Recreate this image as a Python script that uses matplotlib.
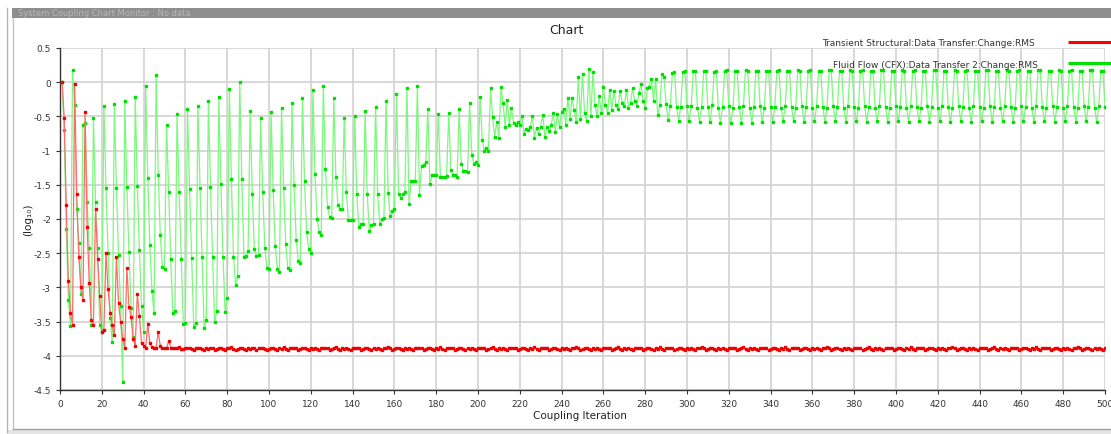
import matplotlib
matplotlib.use('Agg')
import matplotlib.pyplot as plt
from matplotlib.patches import Rectangle
import numpy as np

plt.rcParams['font.family'] = ['DejaVu Sans']
plt.rcParams['axes.unicode_minus'] = False

# coupling iterations 1..500, values are log10 of the RMS change
iterations = np.arange(1, 501)

structural_rms = [
     0.00, -0.52, -1.80, -2.90, -3.38, -3.55, -0.03, -1.64, -2.55, -3.00,   # 1-10
    -3.19, -0.43, -2.12, -2.93, -3.48, -3.55, -1.85, -2.58, -3.13, -3.65,   # 11-20
    -3.62, -2.49, -3.03, -3.37, -3.55, -3.70, -2.55, -3.23, -3.50, -3.75,   # 21-30
    -3.88, -2.71, -3.28, -3.43, -3.76, -3.85, -3.09, -3.42, -3.82, -3.85,   # 31-40
    -3.88, -3.53, -3.82, -3.87, -3.88, -3.88, -3.65, -3.86, -3.88, -3.89,   # 41-50
    -3.89, -3.78, -3.88, -3.89, -3.89, -3.89, -3.87, -3.90, -3.90, -3.89,   # 51-60
    -3.89, -3.88, -3.90, -3.91, -3.89, -3.89, -3.88, -3.90, -3.92, -3.89,   # 61-70
    -3.90, -3.88, -3.89, -3.91, -3.90, -3.89, -3.88, -3.90, -3.91, -3.89,   # 71-80
    -3.89, -3.87, -3.90, -3.92, -3.90, -3.89, -3.88, -3.90, -3.91, -3.89,   # 81-90
    -3.90, -3.88, -3.89, -3.92, -3.89, -3.89, -3.88, -3.90, -3.91, -3.90,   # 91-100
    -3.89, -3.88, -3.90, -3.91, -3.89, -3.90, -3.87, -3.90, -3.92, -3.89,   # 101-110
    -3.89, -3.88, -3.89, -3.91, -3.90, -3.89, -3.88, -3.90, -3.92, -3.89,   # 111-120
    -3.90, -3.88, -3.90, -3.91, -3.89, -3.89, -3.88, -3.89, -3.91, -3.90,   # 121-130
    -3.89, -3.87, -3.90, -3.92, -3.89, -3.90, -3.88, -3.90, -3.91, -3.89,   # 131-140
    -3.89, -3.88, -3.89, -3.92, -3.90, -3.89, -3.88, -3.90, -3.91, -3.89,   # 141-150
    -3.90, -3.88, -3.90, -3.91, -3.89, -3.89, -3.87, -3.89, -3.92, -3.90,   # 151-160
    -3.89, -3.88, -3.90, -3.91, -3.89, -3.90, -3.88, -3.90, -3.92, -3.89,   # 161-170
    -3.89, -3.88, -3.89, -3.91, -3.90, -3.89, -3.88, -3.90, -3.91, -3.89,   # 171-180
    -3.90, -3.87, -3.90, -3.92, -3.89, -3.89, -3.88, -3.89, -3.91, -3.90,   # 181-190
    -3.89, -3.88, -3.90, -3.92, -3.89, -3.90, -3.88, -3.90, -3.91, -3.89,   # 191-200
    -3.89, -3.88, -3.89, -3.91, -3.90, -3.89, -3.87, -3.90, -3.92, -3.89,   # 201-210
    -3.90, -3.88, -3.90, -3.91, -3.89, -3.89, -3.88, -3.89, -3.92, -3.90,   # 211-220
    -3.89, -3.88, -3.90, -3.91, -3.89, -3.90, -3.87, -3.90, -3.91, -3.89,   # 221-230
    -3.89, -3.88, -3.89, -3.92, -3.90, -3.89, -3.88, -3.90, -3.91, -3.89,   # 231-240
    -3.90, -3.88, -3.90, -3.92, -3.89, -3.89, -3.87, -3.89, -3.91, -3.90,   # 241-250
    -3.89, -3.88, -3.90, -3.91, -3.89, -3.90, -3.88, -3.90, -3.92, -3.89,   # 251-260
    -3.89, -3.88, -3.89, -3.91, -3.90, -3.89, -3.87, -3.90, -3.91, -3.89,   # 261-270
    -3.90, -3.88, -3.90, -3.92, -3.89, -3.89, -3.88, -3.89, -3.91, -3.90,   # 271-280
    -3.89, -3.88, -3.90, -3.91, -3.89, -3.90, -3.87, -3.90, -3.92, -3.89,   # 281-290
    -3.89, -3.88, -3.89, -3.91, -3.90, -3.89, -3.88, -3.90, -3.91, -3.89,   # 291-300
    -3.90, -3.88, -3.90, -3.92, -3.89, -3.89, -3.87, -3.89, -3.91, -3.90,   # 301-310
    -3.89, -3.88, -3.90, -3.91, -3.89, -3.90, -3.88, -3.90, -3.92, -3.89,   # 311-320
    -3.89, -3.88, -3.89, -3.91, -3.90, -3.89, -3.87, -3.90, -3.91, -3.89,   # 321-330
    -3.90, -3.88, -3.90, -3.92, -3.89, -3.89, -3.88, -3.89, -3.91, -3.90,   # 331-340
    -3.89, -3.88, -3.90, -3.91, -3.89, -3.90, -3.87, -3.90, -3.92, -3.89,   # 341-350
    -3.89, -3.88, -3.89, -3.91, -3.90, -3.89, -3.88, -3.90, -3.91, -3.89,   # 351-360
    -3.90, -3.88, -3.90, -3.92, -3.89, -3.89, -3.87, -3.89, -3.91, -3.90,   # 361-370
    -3.89, -3.88, -3.90, -3.91, -3.89, -3.90, -3.88, -3.90, -3.92, -3.89,   # 371-380
    -3.89, -3.88, -3.89, -3.91, -3.90, -3.89, -3.87, -3.90, -3.91, -3.89,   # 381-390
    -3.90, -3.88, -3.90, -3.92, -3.89, -3.89, -3.88, -3.89, -3.91, -3.90,   # 391-400
    -3.89, -3.88, -3.90, -3.91, -3.89, -3.90, -3.87, -3.90, -3.92, -3.89,   # 401-410
    -3.89, -3.88, -3.89, -3.91, -3.90, -3.89, -3.88, -3.90, -3.91, -3.89,   # 411-420
    -3.90, -3.88, -3.90, -3.92, -3.89, -3.89, -3.87, -3.89, -3.91, -3.90,   # 421-430
    -3.89, -3.88, -3.90, -3.91, -3.89, -3.90, -3.88, -3.90, -3.92, -3.89,   # 431-440
    -3.89, -3.88, -3.89, -3.91, -3.90, -3.89, -3.87, -3.90, -3.91, -3.89,   # 441-450
    -3.90, -3.88, -3.90, -3.92, -3.89, -3.89, -3.88, -3.89, -3.91, -3.90,   # 451-460
    -3.89, -3.88, -3.90, -3.91, -3.89, -3.90, -3.87, -3.90, -3.92, -3.89,   # 461-470
    -3.89, -3.88, -3.89, -3.91, -3.90, -3.89, -3.88, -3.90, -3.91, -3.89,   # 471-480
    -3.90, -3.88, -3.90, -3.92, -3.89, -3.89, -3.87, -3.89, -3.91, -3.90,   # 481-490
    -3.89, -3.88, -3.90, -3.91, -3.89, -3.90, -3.88, -3.90, -3.92, -3.89,   # 491-500
]

fluid_rms = [
     0.00, -0.70, -2.15, -3.18, -3.57,  0.18, -0.33, -1.85, -2.35, -3.10,   # 1-10
    -0.62, -0.60, -1.75, -2.42, -3.55, -0.53, -1.75, -2.42, -3.55, -3.65,   # 11-20
    -0.35, -1.54, -2.50, -3.45, -3.80, -0.32, -1.54, -2.52, -3.27, -4.39,   # 21-30
    -0.28, -1.53, -2.48, -3.30, -3.73, -0.22, -1.52, -2.46, -3.27, -3.65,   # 31-40
    -0.06, -1.40, -2.38, -3.05, -3.38,  0.11, -1.36, -2.24, -2.70, -2.73,   # 41-50
    -0.62, -1.61, -2.59, -3.37, -3.34, -0.47, -1.60, -2.58, -3.53, -3.52,   # 51-60
    -0.39, -1.56, -2.57, -3.58, -3.52, -0.35, -1.55, -2.55, -3.60, -3.48,   # 61-70
    -0.28, -1.53, -2.55, -3.51, -3.35, -0.22, -1.49, -2.55, -3.36, -3.16,   # 71-80
    -0.10, -1.42, -2.55, -2.96, -2.83,  0.00, -1.41, -2.55, -2.54, -2.47,   # 81-90
    -0.42, -1.63, -2.44, -2.54, -2.53, -0.53, -1.61, -2.42, -2.72, -2.73,   # 91-100
    -0.44, -1.58, -2.40, -2.73, -2.77, -0.37, -1.54, -2.36, -2.72, -2.75,   # 101-110
    -0.31, -1.51, -2.30, -2.61, -2.64, -0.23, -1.45, -2.19, -2.44, -2.50,   # 111-120
    -0.11, -1.34, -2.00, -2.19, -2.23, -0.05, -1.27, -1.82, -1.97, -1.99,   # 121-130
    -0.23, -1.38, -1.80, -1.86, -1.86, -0.52, -1.60, -2.01, -2.02, -2.02,   # 131-140
    -0.49, -1.64, -2.12, -2.08, -2.07, -0.42, -1.64, -2.17, -2.09, -2.07,   # 141-150
    -0.36, -1.63, -2.08, -2.00, -1.99, -0.28, -1.62, -1.95, -1.88, -1.86,   # 151-160
    -0.17, -1.63, -1.69, -1.64, -1.61, -0.09, -1.78, -1.45, -1.45, -1.44,   # 161-170
    -0.06, -1.65, -1.22, -1.21, -1.17, -0.39, -1.49, -1.36, -1.36, -1.35,   # 171-180
    -0.46, -1.38, -1.38, -1.39, -1.37, -0.45, -1.28, -1.36, -1.35, -1.39,   # 181-190
    -0.39, -1.19, -1.30, -1.30, -1.31, -0.31, -1.06, -1.19, -1.17, -1.21,   # 191-200
    -0.21, -0.84, -1.00, -0.96, -1.01, -0.09, -0.51, -0.80, -0.58, -0.81,   # 201-210
    -0.07, -0.31, -0.65, -0.26, -0.63, -0.37, -0.60, -0.63, -0.58, -0.63,   # 211-220
    -0.49, -0.75, -0.68, -0.70, -0.66, -0.50, -0.81, -0.67, -0.76, -0.65,   # 221-230
    -0.48, -0.80, -0.66, -0.72, -0.63, -0.45, -0.73, -0.47, -0.65, -0.44,   # 231-240
    -0.39, -0.62, -0.23, -0.54, -0.23, -0.40, -0.58,  0.07, -0.54,  0.12,   # 241-250
    -0.45, -0.57,  0.20, -0.50,  0.15, -0.33, -0.50, -0.20, -0.45, -0.07,   # 251-260
    -0.34, -0.45, -0.11, -0.40, -0.13, -0.33, -0.39, -0.13, -0.30, -0.35,   # 261-270
    -0.11, -0.37, -0.30, -0.09, -0.28, -0.35, -0.16, -0.03, -0.27, -0.38,   # 271-280
    -0.09, -0.07,  0.05, -0.28,  0.05, -0.48, -0.34,  0.12,  0.08, -0.32,   # 281-290
    -0.55, -0.35,  0.13,  0.15, -0.36, -0.56, -0.36,  0.15,  0.16, -0.35,   # 291-300
    -0.57, -0.35,  0.16,  0.16, -0.37, -0.58, -0.36,  0.17,  0.17, -0.36,   # 301-310
    -0.58, -0.34,  0.15,  0.16, -0.38, -0.59, -0.36,  0.17,  0.18, -0.35,   # 311-320
    -0.60, -0.37,  0.16,  0.17, -0.36, -0.60, -0.35,  0.18,  0.17, -0.37,   # 321-330
    -0.59, -0.36,  0.17,  0.17, -0.35, -0.58, -0.38,  0.16,  0.17, -0.36,   # 331-340
    -0.58, -0.36,  0.17,  0.18, -0.37, -0.57, -0.35,  0.16,  0.16, -0.36,   # 341-350
    -0.57, -0.37,  0.18,  0.17, -0.35, -0.58, -0.36,  0.17,  0.18, -0.37,   # 351-360
    -0.57, -0.35,  0.16,  0.17, -0.36, -0.58, -0.37,  0.18,  0.18, -0.35,   # 361-370
    -0.57, -0.36,  0.17,  0.16, -0.37, -0.58, -0.35,  0.18,  0.17, -0.36,   # 371-380
    -0.57, -0.37,  0.17,  0.18, -0.35, -0.58, -0.36,  0.16,  0.17, -0.37,   # 381-390
    -0.57, -0.35,  0.18,  0.18, -0.36, -0.58, -0.37,  0.17,  0.16, -0.35,   # 391-400
    -0.57, -0.36,  0.18,  0.17, -0.37, -0.58, -0.35,  0.17,  0.18, -0.36,   # 401-410
    -0.57, -0.37,  0.16,  0.17, -0.35, -0.58, -0.36,  0.18,  0.18, -0.37,   # 411-420
    -0.57, -0.35,  0.17,  0.16, -0.36, -0.58, -0.37,  0.18,  0.17, -0.35,   # 421-430
    -0.57, -0.36,  0.17,  0.18, -0.37, -0.58, -0.35,  0.16,  0.17, -0.36,   # 431-440
    -0.57, -0.37,  0.18,  0.18, -0.35, -0.58, -0.36,  0.17,  0.16, -0.37,   # 441-450
    -0.57, -0.35,  0.18,  0.17, -0.36, -0.58, -0.37,  0.17,  0.18, -0.35,   # 451-460
    -0.57, -0.36,  0.16,  0.17, -0.37, -0.58, -0.35,  0.18,  0.18, -0.36,   # 461-470
    -0.57, -0.37,  0.17,  0.16, -0.35, -0.58, -0.36,  0.18,  0.17, -0.37,   # 471-480
    -0.57, -0.35,  0.17,  0.18, -0.36, -0.58, -0.37,  0.16,  0.17, -0.35,   # 481-490
    -0.57, -0.36,  0.18,  0.18, -0.37, -0.58, -0.35,  0.17,  0.16, -0.36,   # 491-500
]

series_names = ['Transient Structural:Data Transfer:Change:RMS',
                'Fluid Flow (CFX):Data Transfer 2:Change:RMS']

x_ticks = list(range(0, 501, 20))
y_ticks = [0.5, 0, -0.5, -1, -1.5, -2, -2.5, -3, -3.5, -4, -4.5]
y_tick_labels = ['0.5', '0', '-0.5', '-1', '-1.5', '-2', '-2.5', '-3', '-3.5', '-4', '-4.5']

W, H = 1111, 435
fig = plt.figure(figsize=(W / 100, H / 100), dpi=100)

# window frame behind the chart (pixel coordinates)
bg = fig.add_axes([0, 0, 1, 1], zorder=0)
bg.set_xlim(0, W)
bg.set_ylim(H, 0)
bg.axis('off')
bg.add_patch(Rectangle((12, 9), W - 12, 10, color='#8e8e8e', lw=0))
bg.text(18, 14, 'System Coupling Chart Monitor : No data', color='#b8b8b8',
        fontsize=6, va='center')
bg.plot([7, 7], [9, 433], color='#b4b4b4', lw=1)
bg.plot([13, 13], [19, 430], color='#c4c4c4', lw=1)
bg.plot([13, W], [430, 430], color='#a0a0a0', lw=1)
bg.add_patch(Rectangle((7, 431), W - 7, 4, color='#e4e4e4', lw=0))

# the chart itself
ax = fig.add_axes([60 / W, 1 - 391 / H, (1105 - 60) / W, (391 - 49) / H], zorder=1)
ax.plot(iterations, fluid_rms, color='#7cf87c', lw=0.9, zorder=3)
ax.plot(iterations, fluid_rms, ls='none', marker='s', ms=2.0,
        color='#00e000', zorder=4)
ax.plot(iterations, structural_rms, color='#ff6a6a', lw=0.9, zorder=5)
ax.plot(iterations, structural_rms, ls='none', marker='s', ms=2.0,
        color='#f00000', zorder=6)

ax.set_xlim(0, 500)
ax.set_ylim(-4.5, 0.5)
ax.set_xticks(x_ticks)
ax.set_yticks(y_ticks)
ax.set_yticklabels(y_tick_labels)
ax.grid(True, color='#d2d2d2', lw=1.2)
ax.set_axisbelow(True)
for side in ['top', 'right']:
    ax.spines[side].set_visible(False)
for side in ['left', 'bottom']:
    ax.spines[side].set_color('#333333')
    ax.spines[side].set_linewidth(1.0)
ax.tick_params(labelsize=6.5, length=3, colors='#333333', width=0.8)

# labels and legend on top (pixel coordinates)
fg = fig.add_axes([0, 0, 1, 1], zorder=2)
fg.set_xlim(0, W)
fg.set_ylim(H, 0)
fg.axis('off')
fg.text(566, 31, 'Chart', fontsize=9, ha='center', va='center', color='#222222')
fg.text(28, 220, '(log\u2081\u2080)', fontsize=7.5, rotation=90,
        ha='center', va='center', color='#222222')
fg.text(580, 416, 'Coupling Iteration', fontsize=7.5, ha='center', va='center',
        color='#222222')
fg.text(1035, 44, series_names[0], fontsize=6.5, ha='right', va='center',
        color='#333333')
fg.plot([1068, W], [43, 43], color='#ff0000', lw=2.2, solid_capstyle='butt')
fg.text(1038, 66, series_names[1], fontsize=6.5, ha='right', va='center',
        color='#333333')
fg.plot([1068, W], [64, 64], color='#00e000', lw=2.2, solid_capstyle='butt')

fig.savefig('out.png', dpi=100)
